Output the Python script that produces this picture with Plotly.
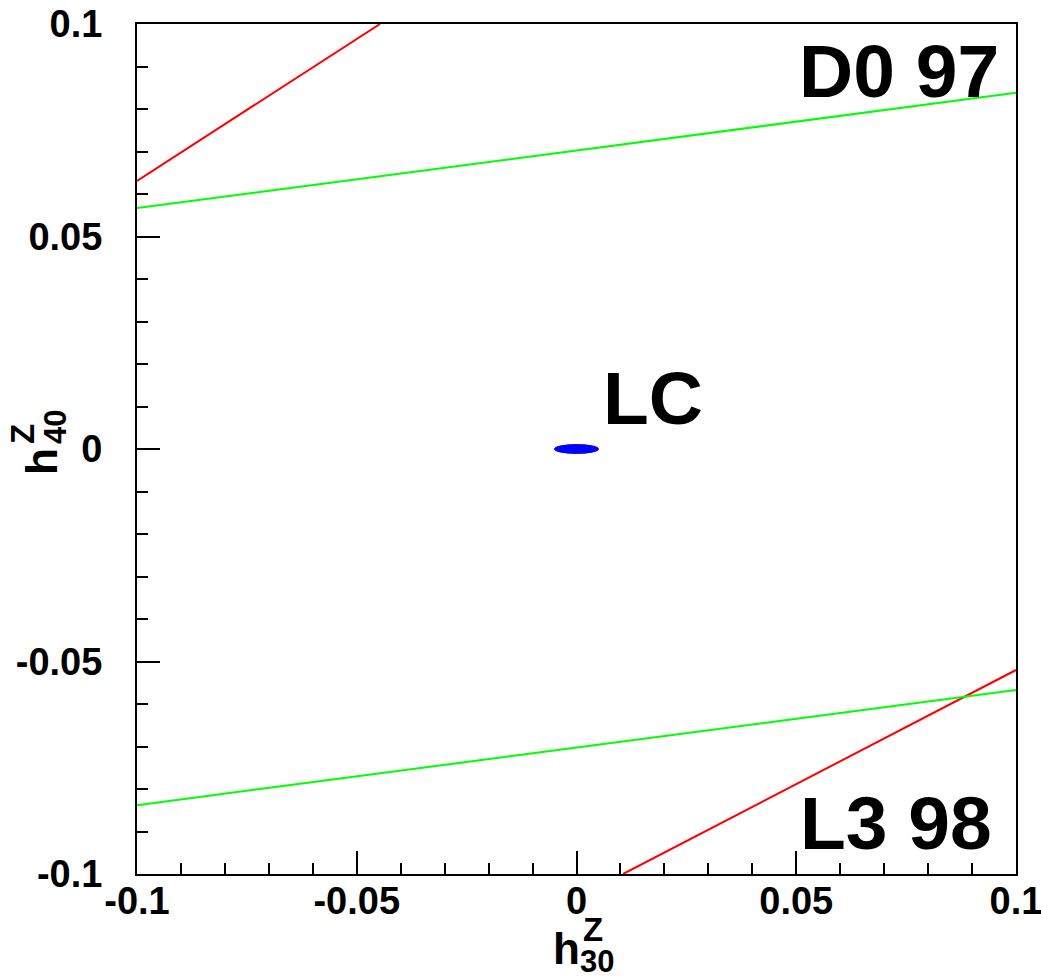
import plotly.graph_objects as go

# ---- data ----
x_range = [-0.1, 0.1]
y_range = [-0.1, 0.1]
tick_vals = [-0.1, -0.05, 0, 0.05, 0.1]
tick_text = ["-0.1", "-0.05", "0", "0.05", "0.1"]

# L3 98 contour (red)
l3_upper_x = [-0.1, -0.0447]
l3_upper_y = [0.0631, 0.1]
l3_lower_x = [0.0106, 0.1]
l3_lower_y = [-0.1, -0.052]

# D0 97 contour (green)
d0_upper_x = [-0.1, 0.1]
d0_upper_y = [0.0567, 0.0838]
d0_lower_x = [-0.1, 0.1]
d0_lower_y = [-0.0838, -0.0567]

# LC ellipse (blue): centre and semi-axes
lc_center = (0.0, 0.0)
lc_semi = (0.0050, 0.00105)

FONT = "Liberation Sans"
RED = "#ff0000"
GREEN = "#00ff00"
BLUE = "#0000ff"

fig = go.Figure()
for xs, ys, col in [(l3_upper_x, l3_upper_y, RED), (l3_lower_x, l3_lower_y, RED),
                    (d0_upper_x, d0_upper_y, GREEN), (d0_lower_x, d0_lower_y, GREEN)]:
    fig.add_trace(go.Scatter(x=xs, y=ys, mode="lines", line=dict(color=col, width=2),
                             showlegend=False, hoverinfo="skip"))

fig.add_shape(type="circle", xref="x", yref="y",
              x0=lc_center[0] - lc_semi[0], x1=lc_center[0] + lc_semi[0],
              y0=lc_center[1] - lc_semi[1], y1=lc_center[1] + lc_semi[1],
              fillcolor=BLUE, line=dict(color=BLUE, width=1))

W, H = 1041, 978
L, R, T, B = 137, 25, 24, 104
PW, PH = W - L - R, H - T - B


def px(xp):
    return (xp - L) / PW


def py(yp):
    return (H - B - yp) / PH


axis_common = dict(
    showgrid=False, zeroline=False, showline=True, linecolor="black",
    linewidth=2, mirror=True, ticks="inside", ticklen=23, tickwidth=2, tickcolor="black",
    tickvals=tick_vals, ticktext=tick_text, automargin=False,
    ticklabeloverflow="allow",
    tickfont=dict(family=FONT, size=38, color="black", weight="bold"),
    minor=dict(dtick=0.01, tick0=0, ticks="inside", ticklen=11, tickwidth=2, tickcolor="black"),
)

fig.update_xaxes(**axis_common, range=x_range, ticklabelstandoff=-8)
fig.update_yaxes(**axis_common, range=y_range, ticklabelstandoff=25)

annos = []
big = dict(family=FONT, size=75, color="black", weight="bold")
annos.append(dict(text="D0 97", x=px(1001), y=py(71), xanchor="right", yanchor="middle", font=big))
annos.append(dict(text="L3 98", x=px(994), y=py(823), xanchor="right", yanchor="middle", font=big))
annos.append(dict(text="LC", x=px(601), y=py(398), xanchor="left", yanchor="middle", font=big))

# x-axis title h^Z_30 (stacked sup/sub)
annos.append(dict(text="h", x=px(566), y=py(949), xanchor="center", yanchor="middle",
                  font=dict(family=FONT, size=44, color="black", weight="bold")))
annos.append(dict(text="Z", x=px(581), y=py(929), xanchor="left", yanchor="middle",
                  font=dict(family=FONT, size=33, color="black", weight="bold")))
annos.append(dict(text="30", x=px(578), y=py(961), xanchor="left", yanchor="middle",
                  font=dict(family=FONT, size=31, color="black", weight="bold")))

# y-axis title h^Z_40 (rotated)
annos.append(dict(text="h", x=px(41), y=py(462), xanchor="center", yanchor="middle", textangle=-90,
                  font=dict(family=FONT, size=44, color="black", weight="bold")))
annos.append(dict(text="Z", x=px(22), y=py(446), xanchor="center", yanchor="bottom", textangle=-90,
                  font=dict(family=FONT, size=33, color="black", weight="bold")))
annos.append(dict(text="40", x=px(55), y=py(446), xanchor="center", yanchor="bottom", textangle=-90,
                  font=dict(family=FONT, size=31, color="black", weight="bold")))

for a in annos:
    a.update(xref="paper", yref="paper", showarrow=False)

fig.update_layout(
    width=W, height=H, margin=dict(l=L, r=R, t=T, b=B, autoexpand=False),
    paper_bgcolor="white", plot_bgcolor="white",
    annotations=annos, showlegend=False,
)

fig.write_html("out.html")
